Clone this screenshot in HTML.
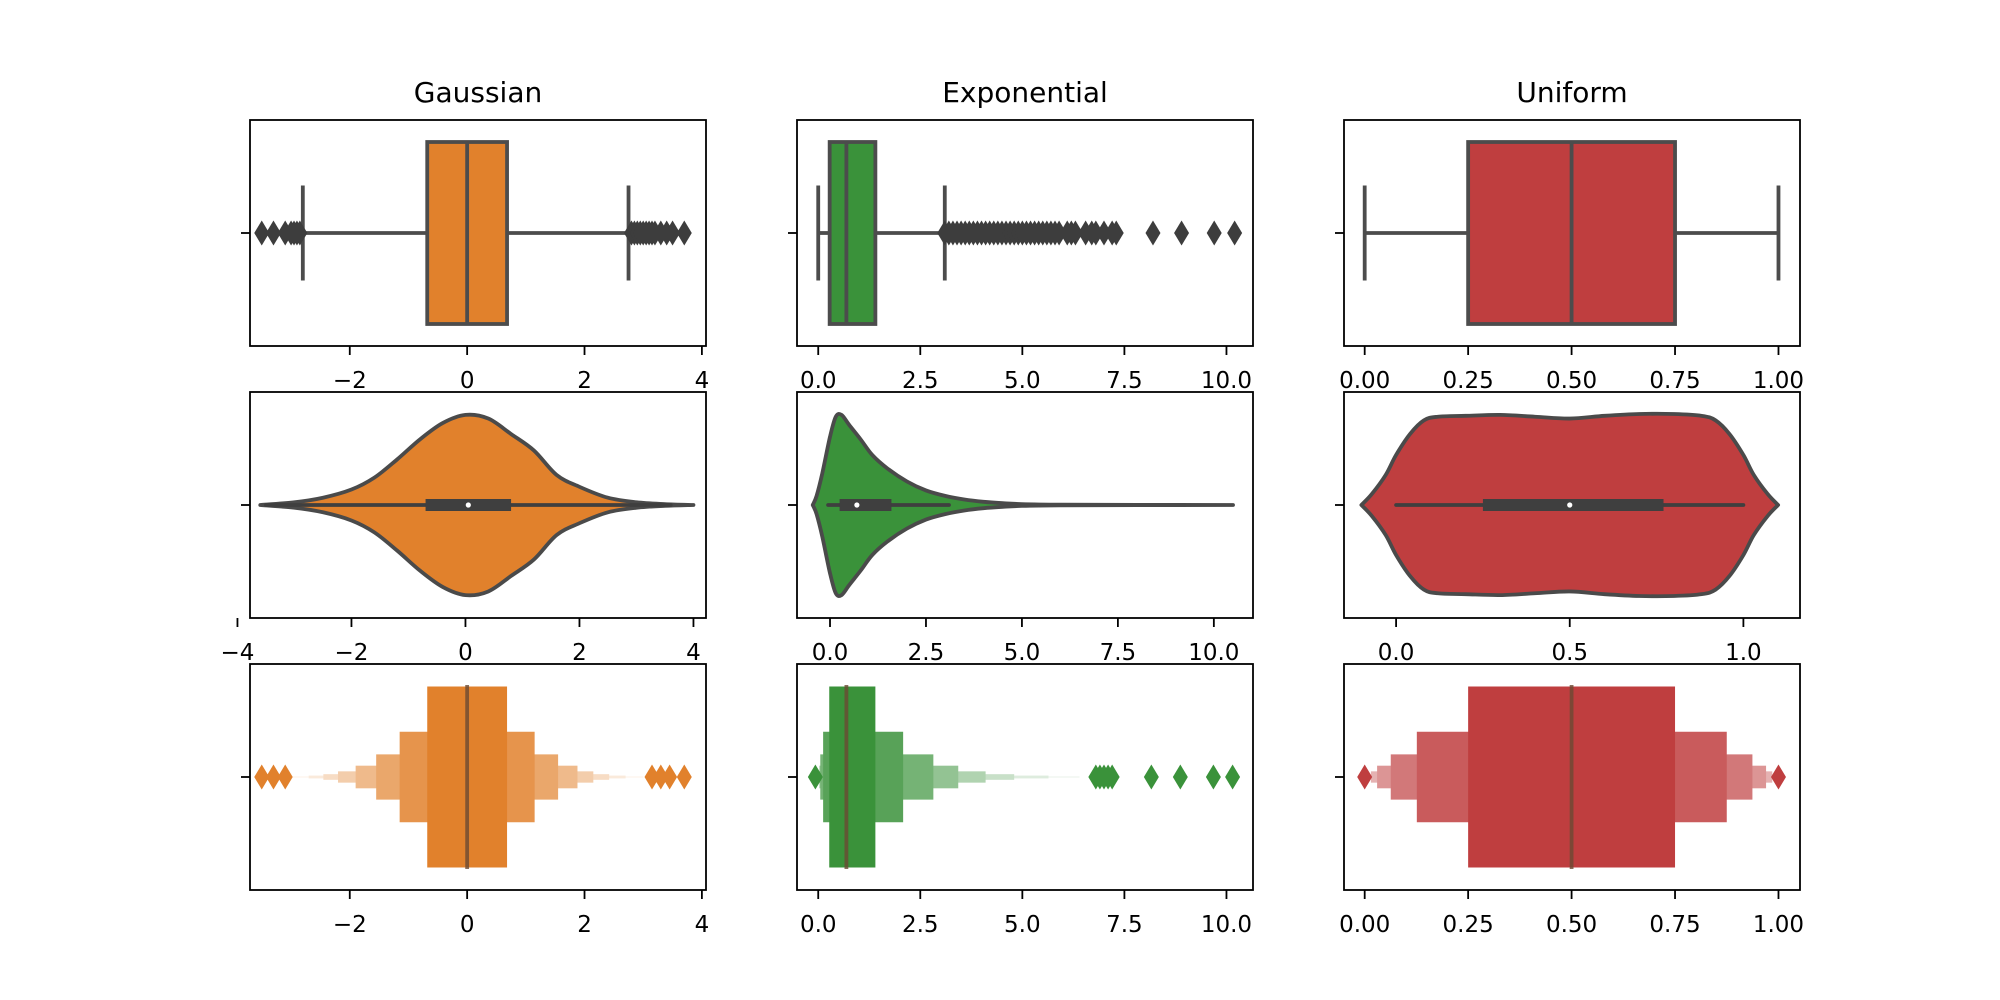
<!DOCTYPE html>
<html><head><meta charset="utf-8"><style>
html,body{margin:0;padding:0;background:#fff;}
svg{display:block;font-family:"DejaVu Sans","Liberation Sans",sans-serif;}
</style></head><body>
<svg id="fig" width="2000" height="1000" viewBox="0 0 2000 1000" xmlns="http://www.w3.org/2000/svg"></svg>
<script>
// ---- data ----
const titles = ["Gaussian", "Exponential", "Uniform"];
const colors = ["#e1812c", "#3a923a", "#bf3e3f"];
// box plot stats: [whiskerLo, q1, median, q3, whiskerHi]
const boxStatsGauss = [-2.8, -0.68, 0.0, 0.68, 2.75];
const boxStatsExpo = [0.0, 0.28, 0.69, 1.4, 3.1];
const boxStatsUnif = [0.0, 0.25, 0.5, 0.75, 1.0];
const outliersGauss = [-3.5, -3.3, -3.1, -3.0, -2.95, -2.9, -2.85, 2.8, 2.85, 2.9, 2.95, 3.0, 3.05, 3.1, 3.15, 3.2, 3.3, 3.4, 3.5, 3.7];
const outliersExpo = [3.1,3.2,3.3,3.4,3.5,3.6,3.7,3.8,3.9,4.0,4.1,4.2,4.3,4.4,4.5,4.6,4.7,4.8,4.9,5.0,5.1,5.2,5.3,5.4,5.5,5.6,5.7,5.8,5.9,6.1,6.2,6.3,6.55,6.7,6.8,7.0,7.2,7.3,8.2,8.9,9.7,10.2];
const outliersUnif = [];
// violin densities: x positions and relative half-widths
const violinXGauss = [-3.6,-3.0,-2.5,-2.0,-1.6,-1.2,-0.8,-0.4,0.0,0.4,0.8,1.2,1.6,2.0,2.5,3.0,3.5,4.0];
const violinWGauss = [0.0,0.03,0.08,0.17,0.3,0.5,0.72,0.9,0.99,0.95,0.78,0.6,0.33,0.2,0.08,0.03,0.01,0.0];
const violinXExpo = [-0.45,-0.35,-0.2,0.0,0.15,0.3,0.5,0.8,1.1,1.5,2.0,2.5,3.0,3.5,4.0,4.5,5.0,6.0,8.0,10.5];
const violinWExpo = [0.0,0.1,0.35,0.75,0.97,0.99,0.88,0.72,0.55,0.4,0.26,0.16,0.1,0.06,0.035,0.02,0.01,0.004,0.001,0.0];
const violinXUnif = [-0.1,-0.07,-0.03,0.0,0.04,0.08,0.12,0.2,0.3,0.4,0.5,0.6,0.7,0.8,0.88,0.92,0.96,1.0,1.03,1.07,1.1];
const violinWUnif = [0.0,0.12,0.33,0.55,0.78,0.93,0.97,0.98,0.99,0.97,0.95,0.98,1.0,1.0,0.98,0.93,0.78,0.55,0.33,0.12,0.0];
// violin inner box: [whiskerLo, q1, median, q3, whiskerHi]
const innerGauss = [-3.5, -0.7, 0.05, 0.8, 3.6];
const innerExpo = [-0.05, 0.25, 0.7, 1.6, 3.1];
const innerUnif = [0.0, 0.25, 0.5, 0.77, 1.0];
// boxen letter-value levels: [lo, hi] from innermost to outermost
const boxenLoGauss = [-0.68,-1.15,-1.55,-1.9,-2.2,-2.45,-2.7,-3.0];
const boxenHiGauss = [0.68,1.15,1.55,1.88,2.15,2.42,2.7,3.0];
const boxenLoExpo = [0.27,0.12,0.05,0.03,0.02,0.01,0.005,0.0];
const boxenHiExpo = [1.4,2.08,2.82,3.43,4.1,4.8,5.64,6.4];
const boxenLoUnif = [0.25,0.126,0.063,0.03,0.015];
const boxenHiUnif = [0.75,0.875,0.937,0.97,0.985];
const boxenMedian = [0.0, 0.69, 0.5];
const boxenOutGauss = [-3.5,-3.3,-3.1,3.15,3.3,3.45,3.7];
const boxenOutExpo = [-0.07,6.8,6.9,7.0,7.1,7.2,8.16,8.87,9.68,10.15];
const boxenOutUnif = [0.0,1.0];
// tick labels
const ticksGauss = [-2,0,2,4];
const ticksGaussViolin = [-4,-2,0,2,4];
const ticksExpo = [0,2.5,5,7.5,10];
const ticksUnifBox = [0,0.25,0.5,0.75,1.0];
const ticksUnifViolin = [0,0.5,1.0];

// ---- layout ----
const NS = "http://www.w3.org/2000/svg";
const svg = document.getElementById("fig");
const colL = [250, 797, 1344], colW = 456;
const rowT = [120, 392, 664], rowH = 226;
const domains = [
  [[-3.70, 4.07], [-3.78, 4.22], [-3.70, 4.07]],
  [[-0.52, 10.65], [-0.86, 11.02], [-0.52, 10.65]],
  [[-0.05, 1.052], [-0.15, 1.163], [-0.05, 1.052]]
];
function el(tag, attrs, parent) {
  const e = document.createElementNS(NS, tag);
  for (const k in attrs) e.setAttribute(k, attrs[k]);
  (parent || svg).appendChild(e);
  return e;
}
function mix(hex, f) {
  const n = parseInt(hex.slice(1), 16);
  const r = (n >> 16) & 255, g = (n >> 8) & 255, b = n & 255;
  const m = c => Math.round(c + (255 - c) * f);
  return `rgb(${m(r)},${m(g)},${m(b)})`;
}
function makeScale(c, r) {
  const [d0, d1] = domains[c][r];
  return v => colL[c] + (v - d0) / (d1 - d0) * colW;
}
function fmt(v, c, r) {
  let s;
  if (c === 0) s = String(v);
  else if (c === 1) s = v.toFixed(1);
  else s = r === 1 ? v.toFixed(1) : v.toFixed(2);
  return s.replace("-", "\u2212");
}
function diamond(g, cx, cy, fill, name) {
  const p = el("path", {d:`M${cx-7.5},${cy} L${cx},${cy-12.5} L${cx+7.5},${cy} L${cx},${cy+12.5} Z`, fill: fill}, g);
  
  
}
function smoothPath(pts) {
  let d = `M${pts[0][0]},${pts[0][1]}`;
  for (let i = 0; i < pts.length - 1; i++) {
    const p0 = pts[Math.max(0, i - 1)], p1 = pts[i], p2 = pts[i + 1], p3 = pts[Math.min(pts.length - 1, i + 2)];
    const c1x = p1[0] + (p2[0] - p0[0]) / 6, c1y = p1[1] + (p2[1] - p0[1]) / 6;
    const c2x = p2[0] - (p3[0] - p1[0]) / 6, c2y = p2[1] - (p3[1] - p1[1]) / 6;
    d += ` C${c1x},${c1y} ${c2x},${c2y} ${p2[0]},${p2[1]}`;
  }
  return d;
}

const boxStats = [boxStatsGauss, boxStatsExpo, boxStatsUnif];
const outliers = [outliersGauss, outliersExpo, outliersUnif];
const vX = [violinXGauss, violinXExpo, violinXUnif];
const vW = [violinWGauss, violinWExpo, violinWUnif];
const inner = [innerGauss, innerExpo, innerUnif];
const bLo = [boxenLoGauss, boxenLoExpo, boxenLoUnif];
const bHi = [boxenHiGauss, boxenHiExpo, boxenHiUnif];
const bOut = [boxenOutGauss, boxenOutExpo, boxenOutUnif];
const ticks = [[ticksGauss, ticksGaussViolin, ticksGauss],[ticksExpo, ticksExpo, ticksExpo],[ticksUnifBox, ticksUnifViolin, ticksUnifBox]];
const lightF = [0, 0.15, 0.3, 0.45, 0.6, 0.72, 0.83, 0.92];

for (let c = 0; c < 3; c++) {
  const t = el("text", {x: colL[c] + colW / 2, y: 102, "text-anchor": "middle", "font-size": 28, fill: "#000"});
  t.textContent = titles[c];
  
  
  for (let r = 0; r < 3; r++) {
    const g = el("g", {});
    
    
    const X = makeScale(c, r);
    const top = rowT[r], bot = top + rowH, cy = top + rowH / 2;
    const col = colors[c];
    if (r === 0) {
      const s = boxStats[c];
      const lc = "#4c4c4c";
      const w1 = el("line", {x1: X(s[0]), x2: X(s[1]), y1: cy, y2: cy, stroke: lc, "stroke-width": 3.8}, g);
      
      
      const w2 = el("line", {x1: X(s[3]), x2: X(s[4]), y1: cy, y2: cy, stroke: lc, "stroke-width": 3.8}, g);
      
      
      [s[0], s[4]].forEach(v => {
        const cap = el("line", {x1: X(v), x2: X(v), y1: cy - 47.5, y2: cy + 47.5, stroke: lc, "stroke-width": 3.8}, g);
        
        
      });
      const bx = el("rect", {x: X(s[1]), y: cy - 91, width: X(s[3]) - X(s[1]), height: 182, fill: col, stroke: lc, "stroke-width": 3.8}, g);
      
      
      const md = el("line", {x1: X(s[2]), x2: X(s[2]), y1: cy - 91, y2: cy + 91, stroke: lc, "stroke-width": 3.8}, g);
      
      
      outliers[c].forEach(v => diamond(g, X(v), cy, "#3d3d3d", 'outlier'));
    } else if (r === 1) {
      const maxHW = 91;
      const xs = vX[c], ws = vW[c];
      const up = xs.map((v, i) => [X(v), cy - ws[i] * maxHW]);
      const dn = xs.map((v, i) => [X(v), cy + ws[i] * maxHW]).reverse();
      const d = smoothPath(up) + " L" + smoothPath(dn).slice(1) + " Z";
      const vp = el("path", {d: d, fill: col, stroke: "#4a4a4a", "stroke-width": 3.8, "stroke-linejoin": "round"}, g);
      
      
      const s = inner[c];
      const wl = el("line", {x1: X(s[0]), x2: X(s[4]), y1: cy, y2: cy, stroke: "#3f3f3f", "stroke-width": 3.8, "stroke-linecap": "round"}, g);
      
      
      const ib = el("rect", {x: X(s[1]), y: cy - 6, width: X(s[3]) - X(s[1]), height: 12, fill: "#3f3f3f"}, g);
      
      
      const dot = el("circle", {cx: X(s[2]), cy: cy, r: 2.6, fill: "#fff"}, g);
      
      
    } else {
      const lo = bLo[c], hi = bHi[c];
      for (let k = lo.length - 1; k >= 0; k--) {
        const hh = 90.5 / Math.pow(2, k);
        const rc = el("rect", {x: X(lo[k]), y: cy - hh, width: X(hi[k]) - X(lo[k]), height: 2 * hh, fill: mix(col, lightF[k])}, g);
        
        
      }
      const m = el("line", {x1: X(boxenMedian[c]), x2: X(boxenMedian[c]), y1: cy - 92, y2: cy + 92, stroke: "#6b4a33", "stroke-opacity": 0.8, "stroke-width": 3.8}, g);
      
      
      bOut[c].forEach(v => diamond(g, X(v), cy, col, 'outlier'));
    }
    const fr = el("rect", {x: colL[c], y: top, width: colW, height: rowH, fill: "none", stroke: "#000", "stroke-width": 1.8}, g);
    
    
    const yt = el("line", {x1: colL[c] - 9, x2: colL[c], y1: cy, y2: cy, stroke: "#000", "stroke-width": 1.8}, g);
    
    
    ticks[c][r].forEach(v => {
      const tl = el("line", {x1: X(v), x2: X(v), y1: bot, y2: bot + 9, stroke: "#000", "stroke-width": 1.8}, g);
      
      
      const tx = el("text", {x: X(v), y: bot + 42, "text-anchor": "middle", "font-size": 23, fill: "#000"}, g);
      tx.textContent = fmt(v, c, r);
      
      
    });
  }
}
</script>
</body></html>
